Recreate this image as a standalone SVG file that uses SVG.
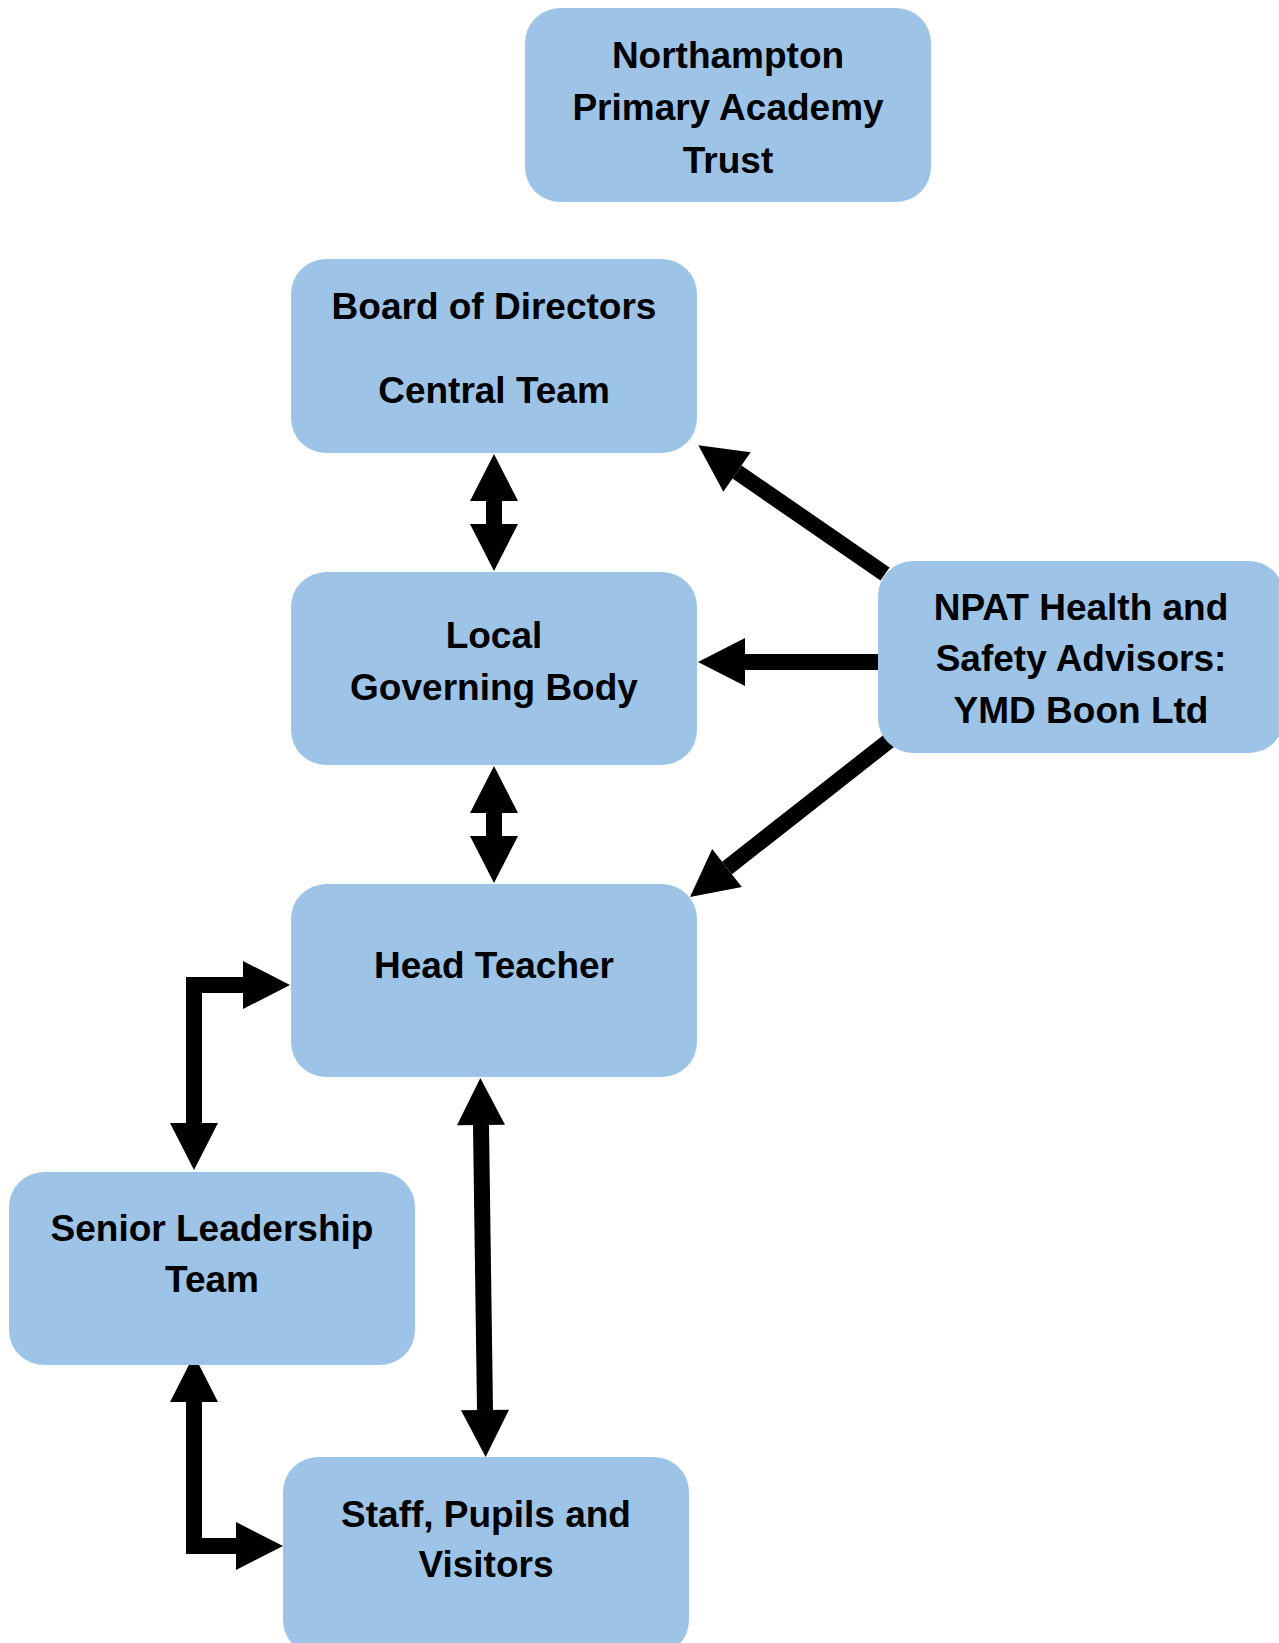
<svg xmlns="http://www.w3.org/2000/svg" width="1279" height="1643" viewBox="0 0 1279 1643">
<style>
.box{fill:#9DC3E6;}
.t{font-family:"Liberation Sans",Arial,sans-serif;font-weight:bold;font-size:37px;fill:#000;text-anchor:middle;}
.c{fill:none;stroke:#000;stroke-width:16;stroke-linejoin:miter;stroke-linecap:butt;}
</style>
<defs>
<marker id="ah" viewBox="0 -25 48 50" refX="0" refY="0" markerWidth="48" markerHeight="50" markerUnits="userSpaceOnUse" orient="auto-start-reverse" overflow="visible">
<path d="M0,-24 L47,0 L0,24 Z" fill="#000"/>
</marker>
</defs>
<rect width="1279" height="1643" fill="#fff"/>
<g id="connectors">
<path class="c" d="M494,501 L494,524" marker-start="url(#ah)" marker-end="url(#ah)"/>
<path class="c" d="M494,813 L494,836" marker-start="url(#ah)" marker-end="url(#ah)"/>
<path class="c" d="M878,662 L745,662" marker-end="url(#ah)"/>
<path class="c" d="M885,574 L737,472" marker-end="url(#ah)"/>
<path class="c" d="M890,740 L727,868" marker-end="url(#ah)"/>
<path class="c" d="M194,1123 V985 H243" marker-start="url(#ah)" marker-end="url(#ah)"/>
<path class="c" d="M194,1402 V1546 H236" marker-start="url(#ah)" marker-end="url(#ah)"/>
<path class="c" d="M481,1125 L485,1410" marker-start="url(#ah)" marker-end="url(#ah)"/>
</g>
<g id="trust">
<rect class="box" x="525" y="8" width="406" height="194" rx="35"/>
<text class="t" x="728" y="68">Northampton</text>
<text class="t" x="728" y="120">Primary Academy</text>
<text class="t" x="728" y="173">Trust</text>
</g>
<g id="board">
<rect class="box" x="291" y="259" width="406" height="194" rx="35"/>
<text class="t" x="494" y="319">Board of Directors</text>
<text class="t" x="494" y="403">Central Team</text>
</g>
<g id="local">
<rect class="box" x="291" y="572" width="406" height="193" rx="35"/>
<text class="t" x="494" y="648">Local</text>
<text class="t" x="494" y="700">Governing Body</text>
</g>
<g id="npat-hs">
<rect class="box" x="878" y="561" width="406" height="192" rx="35"/>
<text class="t" x="1081" y="620">NPAT Health and</text>
<text class="t" x="1081" y="671">Safety Advisors:</text>
<text class="t" x="1081" y="723">YMD Boon Ltd</text>
</g>
<g id="head">
<rect class="box" x="291" y="884" width="406" height="193" rx="35"/>
<text class="t" x="494" y="978">Head Teacher</text>
</g>
<g id="slt">
<rect class="box" x="9" y="1172" width="406" height="193" rx="35"/>
<text class="t" x="212" y="1241">Senior Leadership</text>
<text class="t" x="212" y="1292">Team</text>
</g>
<g id="staff">
<rect class="box" x="283" y="1457" width="406" height="198" rx="35"/>
<text class="t" x="486" y="1527">Staff, Pupils and</text>
<text class="t" x="486" y="1577">Visitors</text>
</g>
</svg>
